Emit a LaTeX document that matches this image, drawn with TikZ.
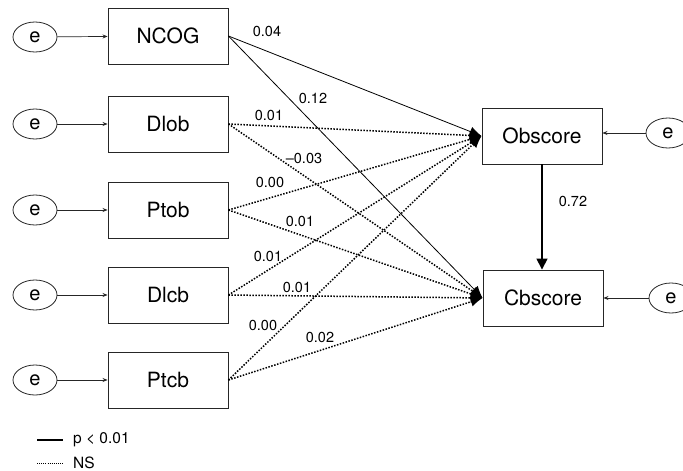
\documentclass[tikz,border=0pt]{standalone}
\usepackage{fontspec}
\setmainfont{TeX Gyre Heros}
\usetikzlibrary{arrows.meta,shapes.geometric}
\begin{document}
\begin{tikzpicture}[x=1pt,y=-1pt,
  box/.style={draw=black!85,line width=0.9pt,minimum width=120pt,minimum height=56pt,inner sep=0pt,font=\fontsize{21}{25}\selectfont},
  err/.style={draw=black!85,line width=0.8pt,ellipse,minimum width=44pt,minimum height=30pt,inner sep=0pt,font=\fontsize{20}{24}\selectfont},
  earrow/.style={line width=0.7pt,draw=black!85,-{Stealth[length=5pt,width=4pt]}},
  sig/.style={line width=0.8pt,-{Latex[length=12pt,width=10pt]}},
  ns/.style={line width=1.5pt,dash pattern=on 1.5pt off 1.5pt,-{Latex[length=12pt,width=10pt]}},
  lab/.style={font=\fontsize{14.5}{17}\selectfont,inner sep=0pt}
]
\useasboundingbox (0,0) rectangle (683,471);
\begin{scope}
\clip (0,0) rectangle (683,471);
% left boxes
\node[box] (ncog) at (168,36) {NCOG};
\node[box] (dlob) at (168,124) {Dlob};
\node[box] (ptob) at (168,210) {Ptob};
\node[box] (dlcb) at (168,295) {Dlcb};
\node[box] (ptcb) at (168,380) {Ptcb};
% right boxes
\node[box] (ob) at (542,136) {Obscore};
\node[box] (cb) at (543,298) {Cbscore};
% error ellipses
\node[err] (e1) at (35,37) {e};
\node[err] (e2) at (35,124) {e};
\node[err] (e3) at (35,210) {e};
\node[err] (e4) at (35,295) {e};
\node[err] (e5) at (35,380) {e};
\node[err] (e6) at (668,133) {e};
\node[err] (e7) at (671,298) {e};
\end{scope}
\draw[earrow] (e1) -- (ncog);
\draw[earrow] (e2) -- (dlob);
\draw[earrow] (e3) -- (ptob);
\draw[earrow] (e4) -- (dlcb);
\draw[earrow] (e5) -- (ptcb);
\draw[earrow] (e6) -- (ob.east |- e6);
\draw[earrow] (e7) -- (cb.east |- e7);
% paths
\draw[sig] (ncog.east) -- (ob.west);
\draw[sig] (ncog.east) -- (cb.west);
\draw[ns] (dlob.east) -- (ob.west);
\draw[ns] (dlob.east) -- (cb.west);
\draw[ns] (ptob.east) -- (ob.west);
\draw[ns] (ptob.east) -- (cb.west);
\draw[ns] (dlcb.east) -- (ob.west);
\draw[ns] (dlcb.east) -- (cb.west);
\draw[ns] (ptcb.east) -- (ob.west);
\draw[ns] (ptcb.east) -- (cb.west);
\draw[line width=1.6pt,-{Triangle[length=11pt,width=11pt]}] (ob.south) -- (ob.south |- cb.north);
% labels
\node[lab] (l1) at (267,31) {0.04};
\node[lab] (l2) at (313,98) {0.12};
\node[lab] (l3) at (269,115) {0.01};
\node[lab] (l4) at (304,158) {\textendash0.03};
\node[lab] (l5) at (270,182) {0.00};
\node[lab] (l6) at (300,221) {0.01};
\node[lab] (l7) at (268,256) {0.01};
\node[lab] (l8) at (297,287) {0.01};
\node[lab] (l9) at (263,325) {0.00};
\node[lab] (l10) at (320,337) {0.02};
\node[lab] (l11) at (573,201) {0.72};
% legend
\coordinate (la) at (37,440);
\coordinate (lb) at (63,440);
\coordinate (lc) at (37,463);
\coordinate (ld) at (63,463);
\draw[line width=1.3pt] (la) -- (lb);
\draw[line width=0.9pt,dash pattern=on 0.9pt off 1.2pt] (lc) -- (ld);
\node[lab,anchor=west,font=\fontsize{15.5}{18}\selectfont] (lg1) at (73,440) {p < 0.01};
\node[lab,anchor=west,font=\fontsize{15.5}{18}\selectfont] (lg2) at (73,463) {NS};
\end{tikzpicture}
\end{document}
